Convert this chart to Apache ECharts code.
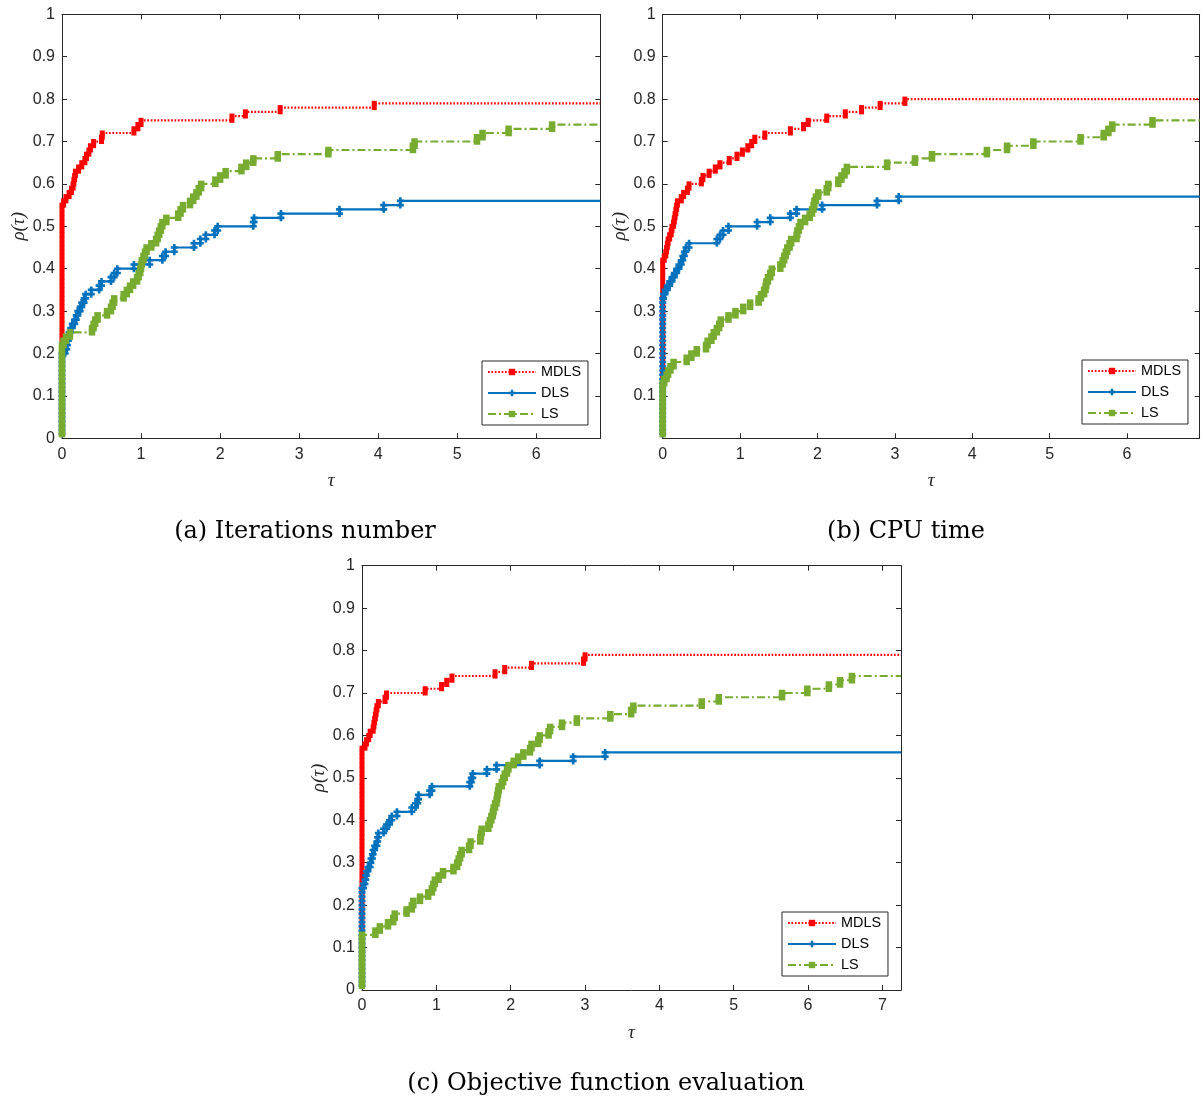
<!DOCTYPE html>
<html>
<head>
<meta charset="utf-8">
<script src="https://cdn.jsdelivr.net/npm/echarts@6/dist/echarts.min.js"></script>
<style>
  html, body { margin: 0; padding: 0; background: #fff; }
  #chart { width: 1201px; height: 1101px; }
</style>
</head>
<body>
<div id="chart"></div>
<script>
// Performance profiles of three line-search solvers on a common test set.
// Each array holds the sorted log2 performance ratios (tau) of the problems a
// solver handled; rho(tau) = (number of ratios <= tau) / NP.
const NP = 100;
const solverNames = ['MDLS', 'DLS', 'LS'];
const captions = ['(a) Iterations number', '(b) CPU time', '(c) Objective function evaluation'];

// (a) iterations
const iterMDLS = [
  0,0,0,0,0,0,0,0,0,0, 0,0,0,0,0,0,0,0,0,0, 0,0,0,0,0,0,0,0,0,0,
  0,0,0,0,0,0,0,0,0,0, 0,0,0,0,0,0,0,0,0,0, 0,0,0,0,0,
  0.02,0.05,0.09,0.12,0.14,0.15,0.16,0.17,0.21,0.25,0.29,0.31,0.34,0.36,0.40,
  0.50,0.51,0.91,0.96,1.00,2.15,2.32,2.76,3.95
];
const iterDLS = [
  0,0,0,0,0,0,0,0,0,0, 0,0,0,0,0,0,0,0,0,0,
  0.04,0.06,0.07,0.08,0.09,0.11,0.13,0.16,0.18,0.20,0.23,0.25,0.28,0.30,0.37,
  0.47,0.50,0.62,0.66,0.70,0.91,1.11,1.27,1.31,1.42,1.67,1.75,1.82,1.93,1.97,
  2.42,2.43,2.77,3.51,4.07,4.28
];
const iterLS = [
  0,0,0,0,0,0,0,0,0,0, 0,0,0,0,0,0,0,0,0,0, 0,0,
  0.02,0.05,0.10,0.38,0.40,0.42,0.45,0.57,0.62,0.64,0.66,0.78,0.82,0.86,0.90,
  0.95,0.97,0.99,1.00,1.01,1.03,1.05,1.07,1.13,1.19,1.21,1.23,1.25,1.27,1.32,
  1.47,1.50,1.53,1.62,1.66,1.70,1.73,1.76,1.94,2.00,2.07,2.27,2.33,2.42,2.73,
  3.37,4.44,4.46,5.25,5.32,5.65,6.20
];

// (b) CPU time
const cpuMDLS = [
  0,0,0,0,0,0,0,0,0,0, 0,0,0,0,0,0,0,0,0,0, 0,0,0,0,0,0,0,0,0,0,
  0,0,0,0,0,0,0,0,0,0, 0,0,
  0.02,0.04,0.05,0.06,0.07,0.09,0.11,0.12,0.14,0.15,0.16,0.17,0.18,0.19,0.24,
  0.27,0.32,0.34,0.50,0.52,0.60,0.68,0.74,0.86,0.96,1.03,1.10,1.15,1.19,1.32,
  1.65,1.82,1.88,2.12,2.36,2.57,2.81,3.13
];
const cpuDLS = [
  0,0,0,0,0,0,0,0,0,0, 0,0,0,0,0,0,0,0,0,0, 0,0,0,0,0,0,0,0,0,0, 0,0,0,
  0.01,0.03,0.06,0.09,0.12,0.15,0.18,0.21,0.24,0.26,0.28,0.30,0.34,0.70,0.74,
  0.78,0.85,1.22,1.39,1.65,1.73,2.06,2.77,3.05
];
const cpuLS = [
  0,0,0,0,0,0,0,0,0,0, 0,0,0,
  0.02,0.05,0.07,0.10,0.14,0.31,0.37,0.44,0.56,0.58,0.63,0.66,0.70,0.73,0.75,
  0.85,0.94,1.04,1.13,1.24,1.27,1.31,1.33,1.34,1.36,1.39,1.41,1.52,1.55,1.57,
  1.59,1.61,1.64,1.66,1.73,1.74,1.76,1.78,1.84,1.90,1.93,1.95,1.96,1.98,2.01,
  2.12,2.14,2.27,2.31,2.35,2.38,2.90,3.26,3.48,4.19,4.45,4.79,5.40,5.70,5.76,
  5.81,6.33
];

// (c) objective function evaluations
const fevMDLS = [
  0,0,0,0,0,0,0,0,0,0, 0,0,0,0,0,0,0,0,0,0, 0,0,0,0,0,0,0,0,0,0,
  0,0,0,0,0,0,0,0,0,0, 0,0,0,0,0,0,0,0,0,0, 0,0,0,0,0,0,0,
  0.04,0.06,0.09,0.11,0.15,0.16,0.17,0.18,0.19,0.20,0.22,0.31,0.33,0.85,1.07,
  1.14,1.21,1.79,1.92,2.28,2.98,3.00
];
const fevDLS = [
  0,0,0,0,0,0,0,0,0,0, 0,0,0,0,0,0,0,0,0,0, 0,0,0,0,
  0.02,0.04,0.05,0.06,0.08,0.11,0.12,0.14,0.15,0.17,0.20,0.21,0.22,0.29,0.33,
  0.37,0.40,0.47,0.67,0.72,0.75,0.76,0.91,0.94,1.45,1.47,1.49,1.68,1.81,2.39,
  2.84,3.27
];
const fevLS = [
  0,0,0,0,0,0,0,0,0,0, 0,0,0,
  0.18,0.24,0.35,0.42,0.44,0.60,0.67,0.69,0.78,0.89,0.94,0.96,0.98,1.03,1.09,
  1.23,1.28,1.30,1.32,1.34,1.44,1.46,1.59,1.60,1.61,1.70,1.72,1.74,1.76,1.77,
  1.79,1.81,1.82,1.83,1.84,1.88,1.90,1.92,1.95,1.97,2.04,2.10,2.17,2.26,2.28,
  2.37,2.39,2.51,2.53,2.69,2.89,3.34,3.62,3.65,4.57,4.80,5.65,5.99,6.28,6.43,
  6.59
];

// axis ranges of the three panels
const tauMax = [6.81, 6.94, 7.25];
const tauStep = 1;
const rhoStep = 0.1;

const profiles = [
  [iterMDLS, iterDLS, iterLS],
  [cpuMDLS, cpuDLS, cpuLS],
  [fevMDLS, fevDLS, fevLS]
];

// ---- layout & styling ----
const panels = [
  { grid: { left: 62, top: 14.3, width: 538.3, height: 424 }, legend: { left: 482, top: 361 }, caption: [305, 532], hideZero: false },
  { grid: { left: 662.7, top: 14.3, width: 537, height: 424 }, legend: { left: 1082, top: 360 }, caption: [906, 532], hideZero: true },
  { grid: { left: 362, top: 565.7, width: 539, height: 424.3 }, legend: { left: 782, top: 912 }, caption: [606, 1084], hideZero: false }
];

const AXIS_COLOR = '#262626';
const styles = [
  { color: '#FF0000', line: { width: 2.2, type: [1.7, 1.7] }, symbol: 'rect', size: 5, item: { color: '#FF0000' } },
  { color: '#0072BD', line: { width: 2.2, type: 'solid' },
    symbol: 'path://M2.5,0h3v2.5h2.5v3h-2.5v2.5h-3v-2.5h-2.5v-3h2.5z', size: 7, item: { color: '#0072BD' } },
  { color: '#77AC30', line: { width: 2.2, type: [8, 3, 2, 3] }, symbol: 'rect', size: 6.5,
    item: { color: '#77AC30' } }
];

// corner points of the staircase rho(tau), markers at every corner
function stairs(taus, tauEnd) {
  const pts = [];
  taus.forEach((t, i) => {
    if (i > 0 && t !== taus[i - 1]) pts.push([t, i / NP]);
    pts.push([t, (i + 1) / NP]);
  });
  pts.push({ value: [tauEnd, taus.length / NP], symbol: 'none' });
  return pts;
}

const grid = [], xAxis = [], yAxis = [], series = [], legend = [], graphic = [];

panels.forEach((p, pi) => {
  grid.push(Object.assign({ containLabel: false, outerBoundsMode: 'none' }, p.grid));

  const baseX = {
    gridIndex: pi, type: 'value', min: 0, max: tauMax[pi], interval: tauStep,
    axisLine: { show: true, onZero: false, lineStyle: { color: AXIS_COLOR, width: 1 } },
    axisTick: { show: true, inside: true, length: 5, lineStyle: { color: AXIS_COLOR } },
    splitLine: { show: false }
  };
  xAxis.push(Object.assign({}, baseX, {
    position: 'bottom',
    axisLabel: { show: true, margin: 8, color: AXIS_COLOR, fontSize: 16, fontFamily: 'Liberation Sans',
      showMaxLabel: false, formatter: v => String(Math.round(v)) },
    name: 'τ', nameLocation: 'middle', nameGap: 33,
    nameTextStyle: { fontFamily: 'Liberation Serif', fontStyle: 'italic', fontSize: 19, color: AXIS_COLOR }
  }));
  xAxis.push(Object.assign({}, baseX, { position: 'top', axisLabel: { show: false } }));

  const baseY = {
    gridIndex: pi, type: 'value', min: 0, max: 1, interval: rhoStep,
    axisLine: { show: true, onZero: false, lineStyle: { color: AXIS_COLOR, width: 1 } },
    axisTick: { show: true, inside: true, length: 5, lineStyle: { color: AXIS_COLOR } },
    splitLine: { show: false }
  };
  yAxis.push(Object.assign({}, baseY, {
    position: 'left',
    axisLabel: { show: true, margin: 7, color: AXIS_COLOR, fontSize: 16, fontFamily: 'Liberation Sans',
      showMinLabel: !p.hideZero, formatter: v => String(+v.toFixed(1)) },
    name: 'ρ(τ)', nameLocation: 'middle', nameGap: 32,
    nameTextStyle: { fontFamily: 'Liberation Serif', fontStyle: 'italic', fontSize: 19, color: AXIS_COLOR }
  }));
  yAxis.push(Object.assign({}, baseY, { position: 'right', axisLabel: { show: false } }));

  profiles[pi].forEach((taus, si) => {
    const s = styles[si];
    series.push({
      name: solverNames[si], type: 'line',
      xAxisIndex: 2 * pi, yAxisIndex: 2 * pi,
      data: stairs(taus, tauMax[pi]),
      symbol: s.symbol, symbolSize: s.size, showAllSymbol: true,
      lineStyle: Object.assign({ color: s.color }, s.line),
      itemStyle: s.item,
      emphasis: { disabled: true },
      clip: true, z: 2 + si
    });
  });

  legend.push({
    left: p.legend.left, top: p.legend.top, orient: 'vertical',
    data: solverNames, selectedMode: false,
    itemWidth: 48, itemHeight: 8, itemGap: 7,
    padding: [4, 7, 4, 5],
    backgroundColor: '#fff', borderColor: AXIS_COLOR, borderWidth: 1, borderRadius: 0,
    textStyle: { fontFamily: 'Liberation Sans', fontSize: 14.4, color: '#000', lineHeight: 14 }
  });

  graphic.push({
    type: 'text', x: p.caption[0], y: p.caption[1],
    style: {
      text: captions[pi], font: '24px "DejaVu Serif"', fill: '#000',
      textAlign: 'center', textVerticalAlign: 'middle', align: 'center', verticalAlign: 'middle'
    }
  });
});

const chart = echarts.init(document.getElementById('chart'), null, { renderer: 'canvas' });
chart.setOption({
  animation: false,
  backgroundColor: '#fff',
  grid, xAxis, yAxis, series, legend, graphic,
  tooltip: { show: false }
});
</script>
</body>
</html>
